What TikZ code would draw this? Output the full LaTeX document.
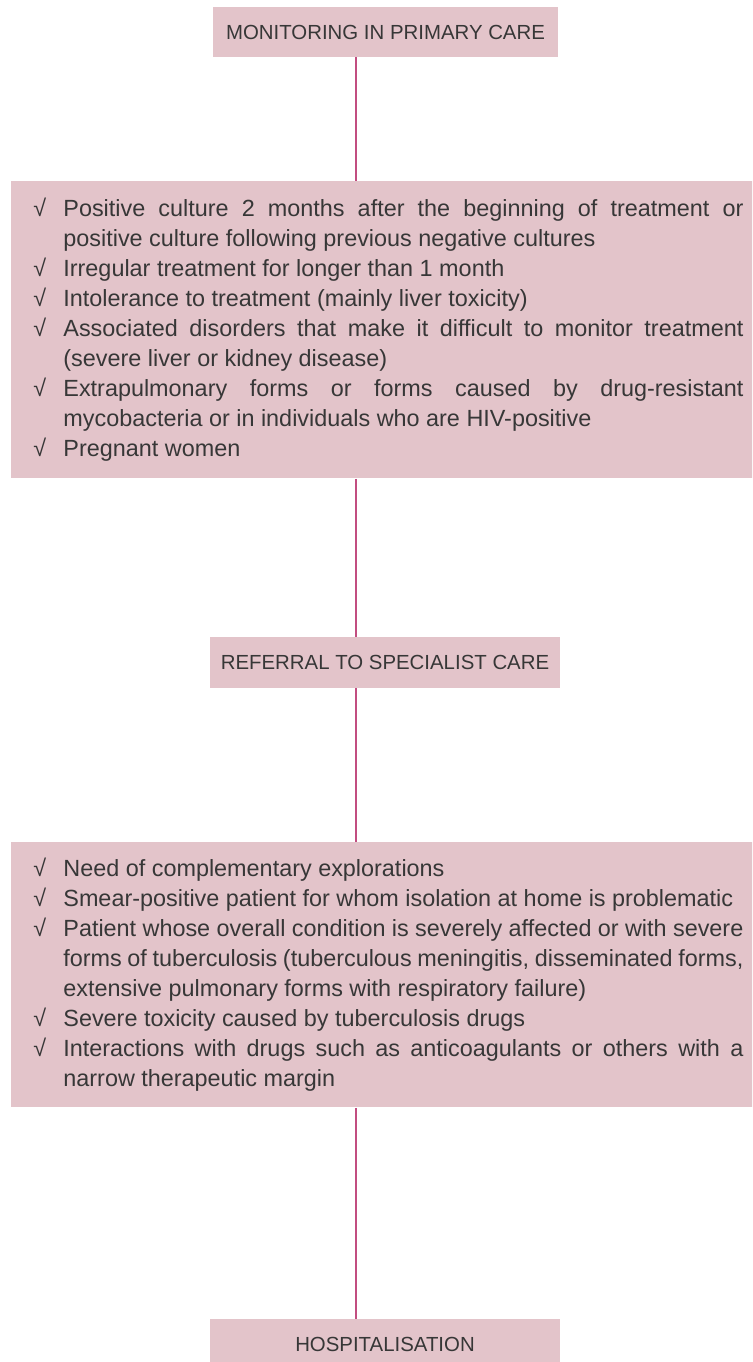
\documentclass[tikz,border=0pt]{standalone}
\usepackage{fontspec}
\setmainfont{Liberation Sans}
\usetikzlibrary{positioning}
\definecolor{boxpink}{RGB}{227,196,202}
\definecolor{linepink}{RGB}{194,78,128}
\definecolor{txtgray}{RGB}{55,55,55}
\newcommand\bodyfont{\fontsize{11.7pt}{15pt}\selectfont}
\newcommand\headfont{\fontsize{10.2pt}{12pt}\selectfont}
\newcommand\critem[1]{\noindent\hangindent=15pt\hangafter=1\makebox[15pt][l]{√}#1\par}

\begin{document}
\begin{tikzpicture}
        [x=0.5pt, y=-0.5pt,
        every node/.style={fill=boxpink, text=txtgray, inner sep=0pt},
        head/.style={minimum width=175pt, minimum height=25.5pt, font=\headfont},
        crit/.style={anchor=north west, text width=355pt, inner xsep=11pt,
        align=justify, font=\bodyfont},
        spine/.style={draw=linepink, line width=1pt}]
        \clip (0,0) rectangle (752,1362);
        \coordinate (axis) at (356,0);
        \node[head, minimum width=172.5pt, minimum height=25pt] (mon) at (385.5,32)
            {MONITORING IN PRIMARY CARE};
        \node[crit, minimum height=148.5pt] (specrit) at (11,181) {%
            \critem{Positive culture 2 months after the beginning of treatment or\linebreak
                positive culture following previous negative cultures}
            \critem{Irregular treatment for longer than 1 month}
            \critem{Intolerance to treatment (mainly liver toxicity)}
            \critem{Associated disorders that make it difficult to monitor treatment\linebreak
                (severe liver or kidney disease)}
            \critem{Extrapulmonary forms or forms caused by drug-resistant\linebreak
                mycobacteria or in individuals who are HIV-positive}
            \critem{Pregnant women}};
        \node[head] (ref) at (385,662.5) {REFERRAL TO SPECIALIST CARE};
        \node[crit, minimum height=132.5pt] (hospcrit) at (11,842) {%
            \critem{Need of complementary explorations}
            \critem{Smear-positive patient for whom isolation at home is problematic}
            \critem{Patient whose overall condition is severely affected or with severe\linebreak
                forms of tuberculosis (tuberculous meningitis, disseminated forms,\linebreak
                extensive pulmonary forms with respiratory failure)}
            \critem{Severe toxicity caused by tuberculosis drugs}
            \critem{Interactions with drugs such as anticoagulants or others with a\linebreak
                narrow therapeutic margin}};
        \node[head] (hosp) at (385,1344.5) {HOSPITALISATION};
        % spine down the left of the centre
        \draw[spine] (mon.south -| axis) -- (specrit.north -| axis);
        \draw[spine] (specrit.south -| axis) -- (ref.north -| axis);
        \draw[spine] (ref.south -| axis) -- (hospcrit.north -| axis);
        \draw[spine] (hospcrit.south -| axis) -- (hosp.north -| axis);
\end{tikzpicture}
\end{document}
